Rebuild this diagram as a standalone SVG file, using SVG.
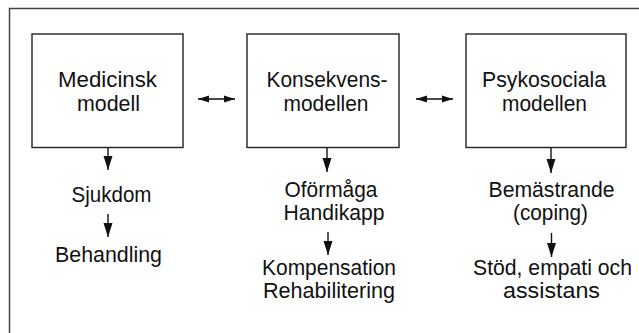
<svg xmlns="http://www.w3.org/2000/svg" width="639" height="333" viewBox="0 0 639 333">
<style>
.frame{fill:none;stroke:#444;stroke-width:1.5}
.box{fill:#fff;stroke:#222;stroke-width:1.4}
.t{font-family:"Liberation Sans",Arial,sans-serif;font-size:22px;fill:#111;text-anchor:middle}
.c{stroke:#111;stroke-width:1.4;fill:none}
</style>
<defs>
<marker id="ah" markerUnits="userSpaceOnUse" markerWidth="12" markerHeight="8" refX="11" refY="4" orient="auto-start-reverse" viewBox="0 0 12 8">
<path d="M0,0.5 L11,4 L0,7.5 Z" fill="#111"/>
</marker>
<marker id="ad" markerUnits="userSpaceOnUse" markerWidth="15" markerHeight="10" refX="14" refY="5" orient="auto" viewBox="0 0 15 10">
<path d="M0,0.5 L14,5 L0,9.5 Z" fill="#111"/>
</marker>
</defs>
<rect width="639" height="333" fill="#fff"/>
<path class="frame" d="M9.5,333 V8.5 H639"/>
<g id="n1">
<rect class="box" x="32" y="34" width="151" height="113.5"/>
<text class="t" x="107.5" y="87" textLength="99" lengthAdjust="spacingAndGlyphs">Medicinsk</text>
<text class="t" x="108.5" y="111" textLength="63" lengthAdjust="spacingAndGlyphs">modell</text>
</g>
<g id="n2">
<rect class="box" x="247" y="34" width="152" height="113.5"/>
<text class="t" x="327" y="87" textLength="121" lengthAdjust="spacingAndGlyphs">Konsekvens-</text>
<text class="t" x="326" y="111" textLength="85" lengthAdjust="spacingAndGlyphs">modellen</text>
</g>
<g id="n3">
<rect class="box" x="466" y="34" width="160" height="113.5"/>
<text class="t" x="544" y="87" textLength="124" lengthAdjust="spacingAndGlyphs">Psykosociala</text>
<text class="t" x="544.5" y="111" textLength="85" lengthAdjust="spacingAndGlyphs">modellen</text>
</g>
<g id="n4"><text class="t" x="111.5" y="202" textLength="80" lengthAdjust="spacingAndGlyphs">Sjukdom</text></g>
<g id="n5"><text class="t" x="108.5" y="262" textLength="107" lengthAdjust="spacingAndGlyphs">Behandling</text></g>
<g id="n6">
<text class="t" x="331" y="197" textLength="93" lengthAdjust="spacingAndGlyphs">Oförmåga</text>
<text class="t" x="334" y="220" textLength="101" lengthAdjust="spacingAndGlyphs">Handikapp</text>
</g>
<g id="n7">
<text class="t" x="329" y="275" textLength="134" lengthAdjust="spacingAndGlyphs">Kompensation</text>
<text class="t" x="329" y="298" textLength="132" lengthAdjust="spacingAndGlyphs">Rehabilitering</text>
</g>
<g id="n8">
<text class="t" x="551.5" y="197" textLength="126" lengthAdjust="spacingAndGlyphs">Bemästrande</text>
<text class="t" x="550.5" y="220" textLength="75" lengthAdjust="spacingAndGlyphs">(coping)</text>
</g>
<g id="n9">
<text class="t" x="552.5" y="275" textLength="159" lengthAdjust="spacingAndGlyphs">Stöd, empati och</text>
<text class="t" x="551.5" y="298" textLength="97" lengthAdjust="spacingAndGlyphs">assistans</text>
</g>
<g id="connectors">
<line class="c" x1="198" y1="99" x2="235" y2="99" marker-start="url(#ah)" marker-end="url(#ah)"/>
<line class="c" x1="416" y1="99" x2="453" y2="99" marker-start="url(#ah)" marker-end="url(#ah)"/>
<line class="c" x1="108" y1="148" x2="108" y2="170" marker-end="url(#ad)"/>
<line class="c" x1="108" y1="214" x2="108" y2="237" marker-end="url(#ad)"/>
<line class="c" x1="327" y1="148" x2="327" y2="172" marker-end="url(#ad)"/>
<line class="c" x1="328" y1="232" x2="328" y2="255" marker-end="url(#ad)"/>
<line class="c" x1="551" y1="148" x2="551" y2="173" marker-end="url(#ad)"/>
<line class="c" x1="551.5" y1="233" x2="551.5" y2="257" marker-end="url(#ad)"/>
</g>
</svg>
